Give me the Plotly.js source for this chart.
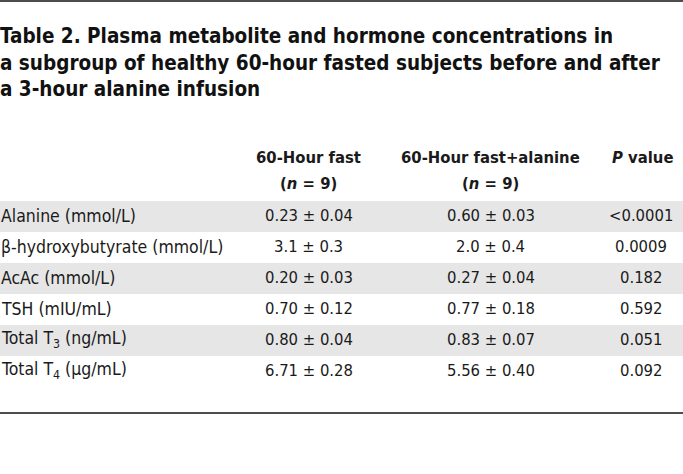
<!DOCTYPE html>
<html><head><meta charset="utf-8">
<script src="https://cdn.plot.ly/plotly-3.0.1.min.js"></script>
<style>body{margin:0;background:#fff}</style>
</head><body>
<div id="chart" style="width:683px;height:474px"></div>
<script>
// ---- data ----
const titleText = "Table 2. Plasma metabolite and hormone concentrations in<br>a subgroup of healthy 60-hour fasted subjects before and after<br>a 3-hour alanine infusion";
const headerLine1 = ["60-Hour fast", "60-Hour fast+alanine", "<i>P</i> value"];
const headerLine2 = ["(<i>n</i> = 9)", "(<i>n</i> = 9)", ""];
const rowLabels = ["Alanine (mmol/L)", "β-hydroxybutyrate (mmol/L)", "AcAc (mmol/L)", "TSH (mIU/mL)", "Total T<sub>3</sub> (ng/mL)", "Total T<sub>4</sub> (μg/mL)"];
const fastValues = ["0.23 ± 0.04", "3.1 ± 0.3", "0.20 ± 0.03", "0.70 ± 0.12", "0.80 ± 0.04", "6.71 ± 0.28"];
const alanineValues = ["0.60 ± 0.03", "2.0 ± 0.4", "0.27 ± 0.04", "0.77 ± 0.18", "0.83 ± 0.07", "5.56 ± 0.40"];
const pValues = ["<0.0001", "0.0009", "0.182", "0.592", "0.051", "0.092"];

// ---- layout geometry ----
const W = 683, H = 474;
const FONT = "DejaVu Sans Condensed, DejaVu Sans, sans-serif";
const TXT = "#1a1a1a";
const rowTop = 201, rowH = 31;           // pixel position of first body row, row height
const colCenters = [308.5, 490.5, 641];  // value column centres (x axis units = px)
const headerCenters = [308.5, 490.5, 642];
const yTop = -(rowTop / rowH) - 0.5;
const yBottom = (H - rowTop) / rowH - 0.5;
const pxToRow = p => (p - rowTop) / rowH - 0.5;
const textNudge = -0.03;

const rowIdx = rowLabels.map((_, i) => i);
const rowColors = rowIdx.map(i => i % 2 === 0 ? "#e6e6e6" : "rgba(0,0,0,0)");

const bands = {
  type: "bar", orientation: "h",
  y: rowIdx, x: rowIdx.map(() => W), base: 0, width: 1,
  marker: {color: rowColors, line: {width: 0}},
  hoverinfo: "skip", showlegend: false
};

const annotations = [];
const ann = (x, y, text, anchor, font) => annotations.push({
  x, y, xref: "x", yref: "y", text, showarrow: false,
  xanchor: anchor, yanchor: "middle", borderpad: 0, font
});
const labelFont = {family: FONT, size: 17.5, color: TXT};
const valueFont = {family: FONT, size: 16.5, color: TXT};
const headFont = {family: FONT, size: 16.5, color: TXT, weight: "bold"};

rowLabels.forEach((t, i) => ann(0, i + textNudge, t, "left", labelFont));
[fastValues, alanineValues, pValues].forEach((col, c) =>
  col.forEach((t, i) => ann(colCenters[c], i + textNudge, t, "center", valueFont)));
headerLine1.forEach((t, c) => ann(headerCenters[c], pxToRow(157), t, "center", headFont));
headerLine2.forEach((t, c) => { if (t) ann(headerCenters[c], pxToRow(183), t, "center", headFont); });

const layout = {
  width: W, height: H,
  margin: {l: 0, r: 0, t: 0, b: 0},
  paper_bgcolor: "#ffffff", plot_bgcolor: "#ffffff",
  showlegend: false,
  xaxis: {range: [0, W], visible: false, fixedrange: true},
  yaxis: {range: [yBottom, yTop], visible: false, fixedrange: true},
  title: {
    text: titleText,
    x: 0, xanchor: "left", xref: "paper",
    y: 1 - 43 / H, yanchor: "top", yref: "container",
    font: {family: FONT, size: 20.5, color: "#111111", weight: "bold"}
  },
  annotations,
  shapes: [
    {type: "line", xref: "paper", yref: "paper", x0: 0, x1: 1, y0: 1 - 1 / H, y1: 1 - 1 / H, line: {color: "#4d4d4d", width: 2}},
    {type: "line", xref: "paper", yref: "paper", x0: 0, x1: 1, y0: 1 - 413 / H, y1: 1 - 413 / H, line: {color: "#4d4d4d", width: 2}}
  ]
};

Plotly.newPlot("chart", [bands], layout, {displayModeBar: false, staticPlot: true});
</script>
</body></html>
